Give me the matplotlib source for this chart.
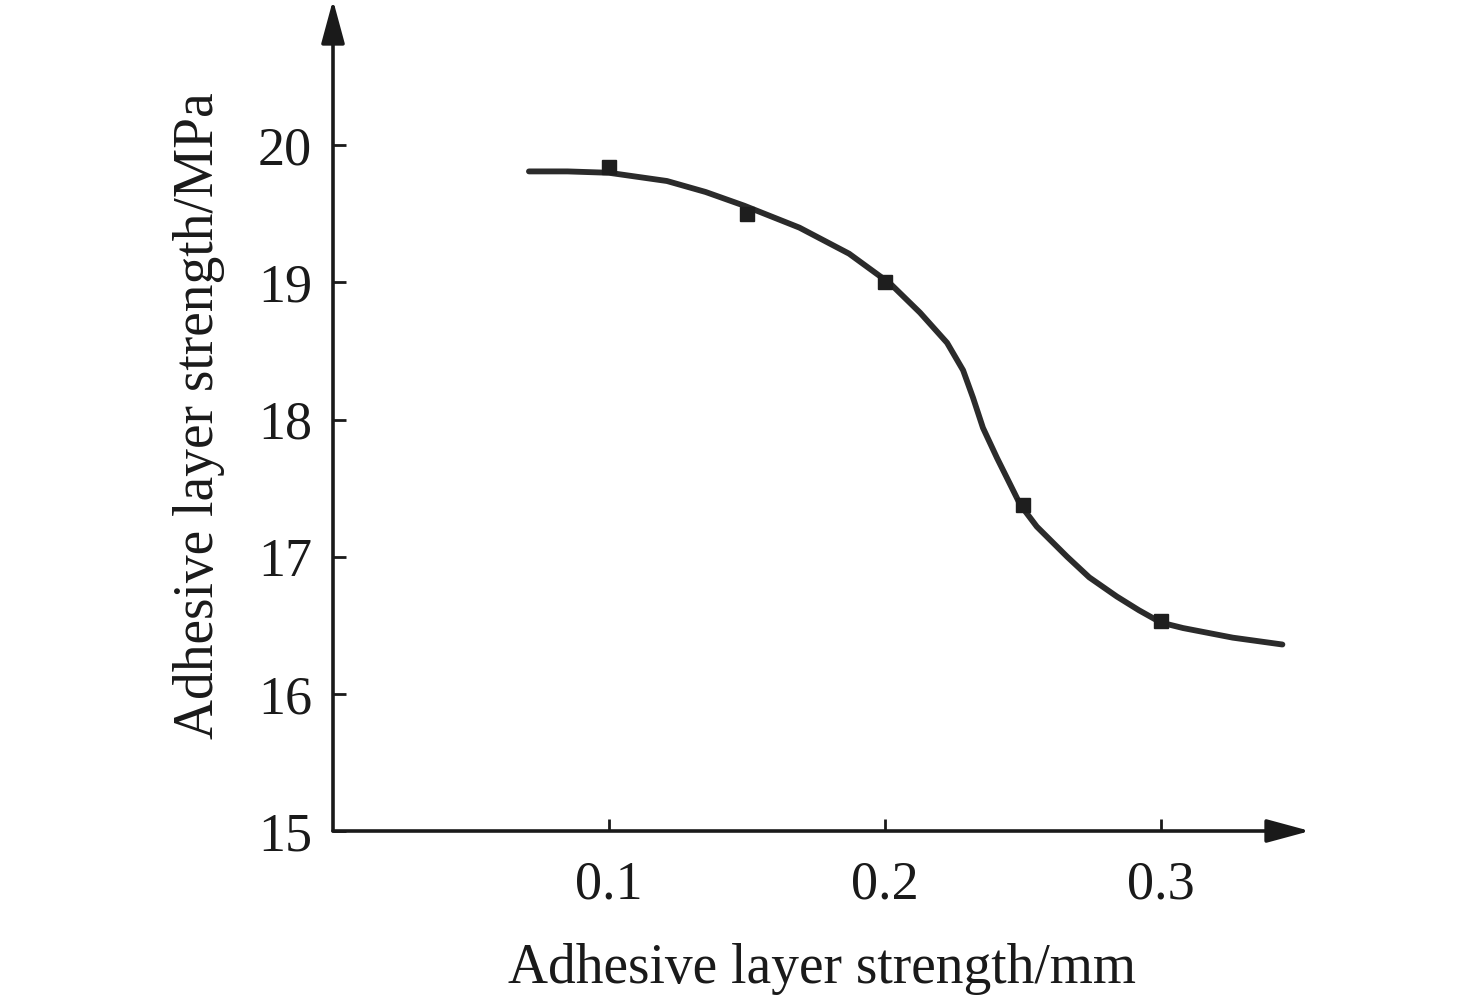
import matplotlib
matplotlib.use("Agg")
import matplotlib.pyplot as plt

# measured points
thickness = [0.10, 0.15, 0.20, 0.25, 0.30]
strength = [19.84, 19.50, 19.00, 17.38, 16.53]

# fitted curve
curve_x = [0.071, 0.085, 0.100, 0.121, 0.135, 0.149, 0.169, 0.187, 0.202,
           0.2127, 0.2225, 0.2283, 0.2319, 0.2355, 0.2406, 0.2453, 0.249,
           0.255, 0.266, 0.274, 0.284, 0.292, 0.300, 0.308, 0.326, 0.344]
curve_y = [19.81, 19.81, 19.80, 19.74, 19.66, 19.56, 19.40, 19.21, 18.99,
           18.78, 18.56, 18.36, 18.16, 17.94, 17.72, 17.53, 17.38,
           17.22, 17.00, 16.85, 16.71, 16.61, 16.52, 16.48, 16.41, 16.36]

xticks = [0.1, 0.2, 0.3]
yticks = [15, 16, 17, 18, 19, 20]

plt.rcParams["font.family"] = ["Liberation Serif", "DejaVu Serif"]

W, H = 1476, 998
fig = plt.figure(figsize=(W / 100, H / 100), dpi=100)
ax = fig.add_axes([333 / W, (H - 831) / H, (1310 - 333) / W, 831 / H])
ax.set_xlim(0, 0.354)
ax.set_ylim(15, 21.06)

ax.plot(curve_x, curve_y, color="#2b2b2b", lw=4.2, solid_capstyle="round",
        solid_joinstyle="round", zorder=3)
ax.plot(thickness, strength, ls="none", marker="s", ms=10, color="#1e1e1e", zorder=4)

for s in ax.spines.values():
    s.set_visible(False)

ax_col = "#1a1a1a"
arrow = dict(arrowstyle="-|>,head_length=1.33,head_width=0.36", color=ax_col,
             lw=2.6, mutation_scale=20, shrinkA=0, shrinkB=0)
ax.annotate("", xy=(0, 1), xytext=(0, 0), xycoords="axes fraction",
            textcoords="axes fraction", arrowprops=arrow, annotation_clip=False)
ax.annotate("", xy=(1, 0), xytext=(0, 0), xycoords="axes fraction",
            textcoords="axes fraction", arrowprops=arrow, annotation_clip=False)

ax.set_xticks(xticks)
ax.set_xticklabels([f"{t:.1f}" for t in xticks])
ax.set_yticks(yticks)
ax.tick_params(axis="both", direction="in", length=9, width=2, color=ax_col,
               labelsize=39, labelcolor="#1a1a1a")
ax.tick_params(axis="y", pad=15)
ax.tick_params(axis="x", pad=21)

ax.set_xlabel("Adhesive layer strength/mm", fontsize=40, color="#1a1a1a", labelpad=23)
ax.set_ylabel("Adhesive layer strength/MPa", fontsize=40, color="#1a1a1a", labelpad=24)

fig.savefig("out.png", dpi=100)
